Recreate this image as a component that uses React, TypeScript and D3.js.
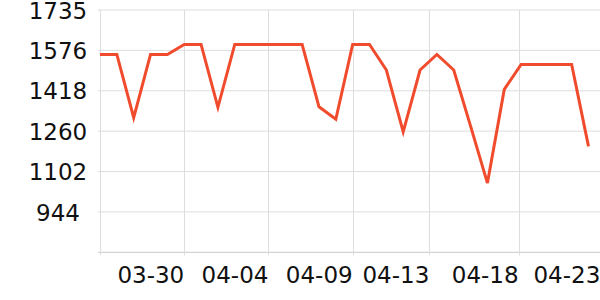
import React from "react";
import * as d3 from "d3";

const dates = [
  "03-25","03-26","03-27","03-28","03-29","03-30","03-31","04-01","04-02","04-03",
  "04-04","04-05","04-06","04-07","04-08","04-09","04-10","04-11","04-12","04-13",
  "04-14","04-15","04-16","04-17","04-18","04-19","04-20","04-21","04-22","04-23",
];
const values = [
  1561, 1561, 1313, 1561, 1561, 1600, 1600, 1354, 1600, 1600,
  1600, 1600, 1600, 1356, 1307, 1600, 1600, 1500, 1258, 1500,
  1561, 1500, 1280, 1057, 1424, 1522, 1522, 1522, 1522, 1201,
];
// x tick labels and where they sit, in data-index units
const xTickLabels = ["03-30", "04-04", "04-09", "04-13", "04-18", "04-23"];
const xTickIndex = [5, 10, 15, 19.55, 24.85, 29.7];
const yMin = 786;
const yMax = 1735;
const ySteps = 6;

export default function App() {
  const W = 600, H = 300;
  const left = 100, right = 588.5, top = 10, bottom = 252.3;
  const x = d3.scaleLinear().domain([0, dates.length - 1]).range([left, right]);
  const y = d3.scaleLinear().domain([yMin, yMax]).range([bottom, top]);
  const yTicks = d3.range(ySteps + 1).map((k) => yMin + (k * (yMax - yMin)) / ySteps);
  const line = d3
    .line<number>()
    .x((_, i) => x(i))
    .y((d) => y(d));
  const font = "'DejaVu Sans', sans-serif";
  return (
    <svg
      width={W}
      height={H}
      style={{ position: "absolute", left: 0, top: 0, background: "#fff" }}
      fontFamily={font}
    >
      {yTicks.map((t, i) => (
        <line
          key={"h" + i}
          x1={left - 2}
          x2={W}
          y1={y(t)}
          y2={y(t)}
          stroke={i === 0 ? "#c8c8c8" : "#dddddd"}
          strokeWidth={1}
        />
      ))}
      {[0, ...xTickIndex].map((t, i) => (
        <line
          key={"v" + i}
          x1={Math.round(x(t)) + 0.5}
          x2={Math.round(x(t)) + 0.5}
          y1={top}
          y2={bottom + 3}
          stroke="#dddddd"
          strokeWidth={1}
        />
      ))}
      {yTicks.slice(1).map((t, i) => (
        <text
          key={"yl" + i}
          x={58}
          y={y(t) + 8.6}
          textAnchor="middle"
          fontSize={23}
          fill="#111"
        >
          {Math.floor(t + 1e-6)}
        </text>
      ))}
      {xTickLabels.map((lab, i) => (
        <text
          key={"xl" + i}
          x={x(xTickIndex[i])}
          y={282.5}
          textAnchor="end"
          fontSize={23}
          fill="#111"
        >
          {lab}
        </text>
      ))}
      <path
        d={line(values) || ""}
        fill="none"
        stroke="#f04b2d"
        strokeWidth={3}
        strokeLinejoin="miter"
      />
    </svg>
  );
}
